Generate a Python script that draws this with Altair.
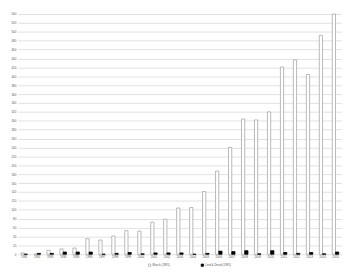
import altair as alt
import pandas as pd

years = [str(y) for y in range(1991, 2016)]
series_names = ["March (1991)", "Lind & Zmud (1991)"]
march = [3, 0, 9, 12, 14, 35, 32, 41, 53, 52, 72, 79, 104, 105, 141, 187, 240, 304, 302, 320, 421, 437, 404, 492, 540]
lind = [0, 2, 2, 5, 5, 5, 0, 2, 4, 1, 3, 3, 3, 0, 2, 7, 6, 8, 1, 8, 4, 2, 4, 1, 5]
y_ticks = [0, 20, 40, 60, 80, 100, 120, 140, 160, 180, 200, 220, 240, 260, 280,
           300, 320, 340, 360, 380, 400, 420, 440, 460, 480, 500, 520, 540]

rows = []
for i, y in enumerate(years):
    rows.append({"year": y, "series": series_names[0], "value": march[i]})
    rows.append({"year": y, "series": series_names[1], "value": lind[i]})
df = pd.DataFrame(rows)

FONT = "Liberation Sans"
TXT = "#595959"

chart = alt.Chart(df).mark_bar(strokeWidth=0.8).encode(
    x=alt.X("year:N", sort=years,
            scale=alt.Scale(paddingInner=0.5, paddingOuter=0.25),
            axis=alt.Axis(title=None, labelAngle=0, ticks=False, domain=False,
                          labelFontSize=3, labelPadding=1.5, labelColor=TXT,
                          labelOverlap=False, grid=False)),
    xOffset=alt.XOffset("series:N", sort=series_names, scale=alt.Scale(paddingInner=0)),
    y=alt.Y("value:Q",
            scale=alt.Scale(domain=[0, 540], nice=False),
            axis=alt.Axis(values=y_ticks, title=None, ticks=False, domain=False,
                          labelFontSize=3, labelPadding=2, labelColor=TXT,
                          gridColor="#d9d9d9", gridWidth=0.8)),
    fill=alt.Fill("series:N", sort=series_names,
                  scale=alt.Scale(domain=series_names, range=["#ffffff", "#000000"]),
                  legend=alt.Legend(title=None)),
    stroke=alt.Stroke("series:N", sort=series_names,
                      scale=alt.Scale(domain=series_names, range=["#a6a6a6", "#000000"]),
                      legend=alt.Legend(title=None)),
).properties(
    width=332,
    height=246,
    autosize=alt.AutoSizeParams(type="none"),
    padding={"left": 10, "top": 3, "right": 0, "bottom": 15},
).configure_view(
    stroke=None
).configure_axis(
    labelFont=FONT
).configure_legend(
    orient="none",
    direction="horizontal",
    legendX=133,
    legendY=255,
    columnPadding=30,
    labelFont=FONT,
    labelFontSize=3,
    labelColor=TXT,
    labelOffset=1,
    symbolType="square",
    symbolSize=6,
    symbolStrokeWidth=0.7,
)

chart.save("out.html", embed_options={"renderer": "svg", "actions": False})
